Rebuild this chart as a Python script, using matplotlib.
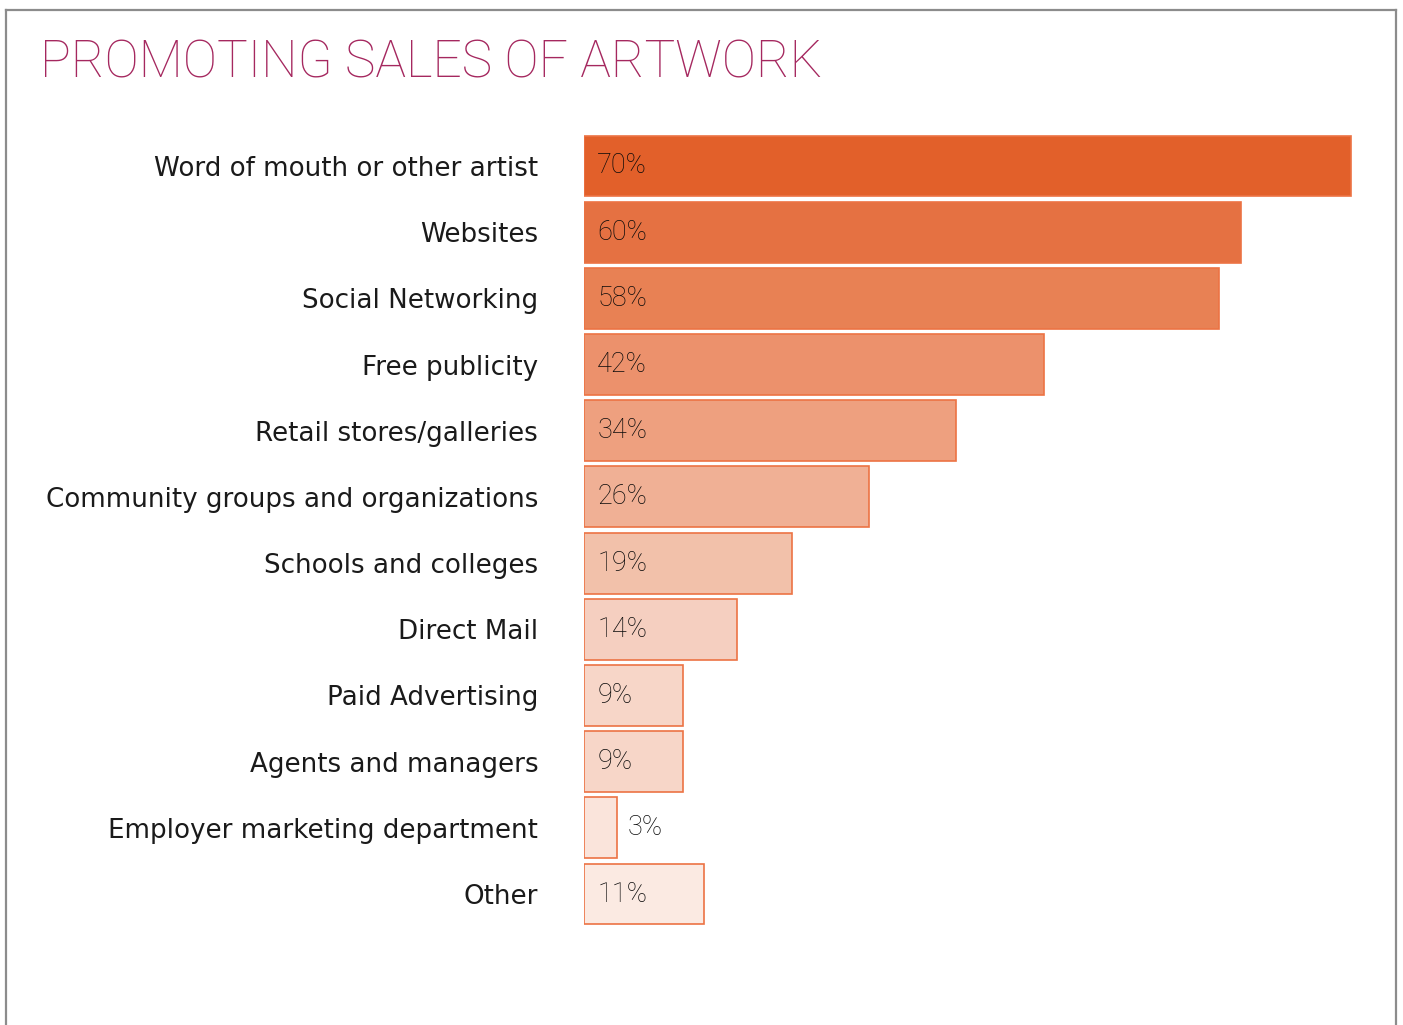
"""Horizontal bar chart: channels used to promote sales of artwork."""

import matplotlib

matplotlib.use("Agg")
import matplotlib.pyplot as plt
from matplotlib.lines import Line2D

categories = [
    "Word of mouth or other artist",
    "Websites",
    "Social Networking",
    "Free publicity",
    "Retail stores/galleries",
    "Community groups and organizations",
    "Schools and colleges",
    "Direct Mail",
    "Paid Advertising",
    "Agents and managers",
    "Employer marketing department",
    "Other",
]
shares = [70, 60, 58, 42, 34, 26, 19, 14, 9, 9, 3, 11]
bar_colors = [
    "#E2602A", "#E57142", "#E88154", "#EC916C", "#EEA07F", "#F0B095",
    "#F2C1AA", "#F5CFC0", "#F7D6C8", "#F7D6C8", "#FAE4DB", "#FBEAE2",
]

TITLE_COLOR = "#A5285F"
EDGE_COLOR = "#EC7344"
TEXT_COLOR = "#1A1A1A"
W, H = 1403, 1025


def main():
    fig = plt.figure(figsize=(W / 100, H / 100), dpi=100)
    fig.patch.set_facecolor("white")

    # open frame: top, left and right edges only
    frame_kw = dict(color="#8C8C8C", linewidth=1.6, transform=fig.transFigure)
    top = 1 - 9.5 / H
    fig.add_artist(Line2D([5.5 / W, 1396 / W], [top, top], **frame_kw))
    fig.add_artist(Line2D([5.5 / W, 5.5 / W], [0, top], **frame_kw))
    fig.add_artist(Line2D([1396 / W, 1396 / W], [0, top], **frame_kw))

    fig.text(40 / W, 1 - 78 / H, "PROMOTING SALES OF ARTWORK", color=TITLE_COLOR,
             fontsize=37, fontfamily="Roboto", fontweight="light", va="baseline", ha="left")

    ax_top, ax_bot = 132.9, 927.1
    ax = fig.add_axes([584 / W, 1 - ax_bot / H, 812 / W, (ax_bot - ax_top) / H])
    px_per_pct = 10.95
    ax.set_xlim(0, 812 / px_per_pct)
    ax.set_ylim(len(categories) - 0.5, -0.5)

    ypos = list(range(len(categories)))
    ax.barh(ypos, shares, height=0.92, color=bar_colors, edgecolor=EDGE_COLOR, linewidth=1.2)

    for y, v in zip(ypos, shares):
        # narrow bars get their label just outside
        x = v + 1.0 if v < 5 else 1.2
        ax.text(x, y, f"{v}%", va="center", ha="left", fontsize=19.5,
                fontfamily="Roboto", fontweight="light", color="#0A0A0A")

    ax.set_yticks(ypos)
    ax.set_yticklabels(categories, fontsize=18.8, fontfamily="DejaVu Sans", color=TEXT_COLOR)
    ax.tick_params(axis="y", length=0, pad=33)
    ax.set_xticks([])
    for s in ax.spines.values():
        s.set_visible(False)

    fig.savefig("out.png", dpi=100)
    plt.close(fig)


if __name__ == "__main__":
    main()
